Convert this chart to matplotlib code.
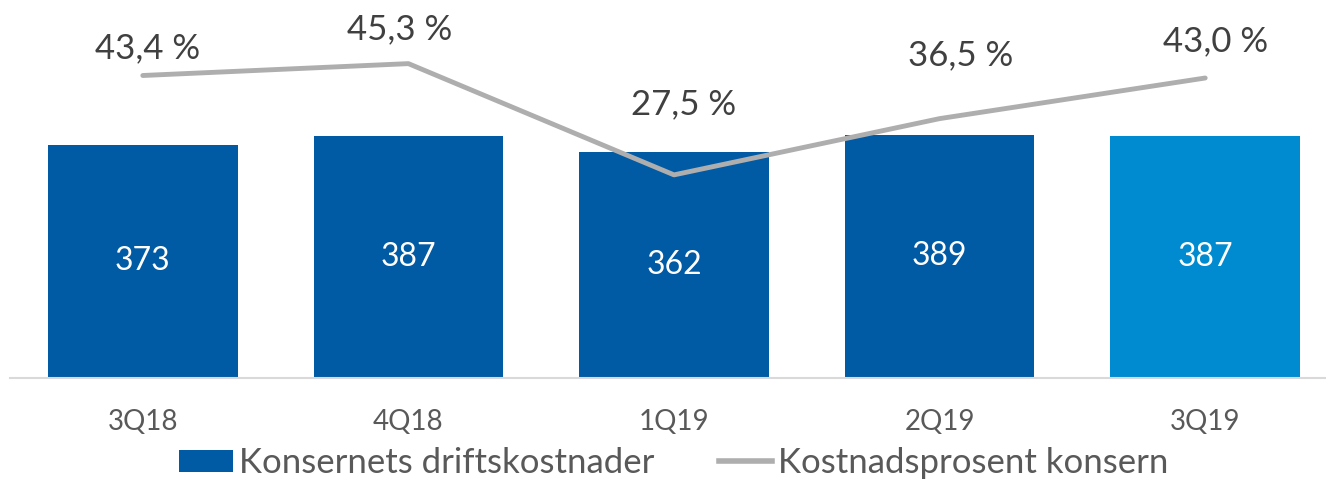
import matplotlib
matplotlib.use("Agg")
import matplotlib.pyplot as plt
from matplotlib.patches import Patch
from matplotlib.lines import Line2D

categories = ["3Q18", "4Q18", "1Q19", "2Q19", "3Q19"]
costs = [373, 387, 362, 389, 387]
cost_pct = [43.4, 45.3, 27.5, 36.5, 43.0]
pct_labels = ["43,4 %", "45,3 %", "27,5 %", "36,5 %", "43,0 %"]

bar_colors = ["#005AA4", "#005AA4", "#005AA4", "#005AA4", "#008AD0"]
line_color = "#AEAEAE"
# label offsets in pixels (layout only)
lbl_dx = [5, -9, 10, 21, 10]
lbl_dy = [27, 34, 71, 63, 37]

plt.rcParams['font.family'] = ['Lato', 'DejaVu Sans']

W, H = 1326, 480
fig = plt.figure(figsize=(W / 100, H / 100), dpi=100)
left, right, bottom, top = 10, 1338, 378, 3
ax = fig.add_axes([left / W, (H - bottom) / H, (right - left) / W, (bottom - top) / H])

x = list(range(len(categories)))
bars = ax.bar(x, costs, width=0.714, color=bar_colors, zorder=2)
ax.set_xlim(-0.5, 4.5)
ax.set_ylim(0, 600)
for xi, v in zip(x, costs):
    ax.text(xi, v / 2, str(v), ha='center', va='center', color='white', fontsize=23, zorder=3)

ax.set_xticks(x)
ax.set_xticklabels(categories, fontsize=20, color='#595959')
ax.tick_params(axis='x', length=0, pad=22)
ax.set_yticks([])
for s in ['top', 'left', 'right']:
    ax.spines[s].set_visible(False)
ax.spines['bottom'].set_color('#D9D9D9')
ax.spines['bottom'].set_linewidth(1.5)

ax2 = ax.twinx()
ax2.set_ylim(-5, 55)
ax2.plot(x, cost_pct, color=line_color, linewidth=3.5, solid_capstyle='round', zorder=4)
ax2.set_yticks([])
for s in ['top', 'left', 'right', 'bottom']:
    ax2.spines[s].set_visible(False)
for xi, v, lab, dx, dy in zip(x, cost_pct, pct_labels, lbl_dx, lbl_dy):
    ax2.annotate(lab, (xi, v), xytext=(dx * 0.72, dy * 0.72), textcoords='offset points',
                 ha='center', va='center', fontsize=25, color='#404040')

handles = [Patch(facecolor='#005AA4', edgecolor='none'),
           Line2D([0], [0], color=line_color, linewidth=4)]
fig.legend(handles, ["Konsernets driftskostnader", "Kostnadsprosent konsern"],
           loc='center', bbox_to_anchor=(674 / W, (H - 463) / H), ncol=2, frameon=False,
           fontsize=25, labelcolor='#595959', handlelength=1.55, handleheight=0.58,
           handletextpad=0.17, columnspacing=1.85, borderpad=0)

fig.savefig("out.png", dpi=100)
